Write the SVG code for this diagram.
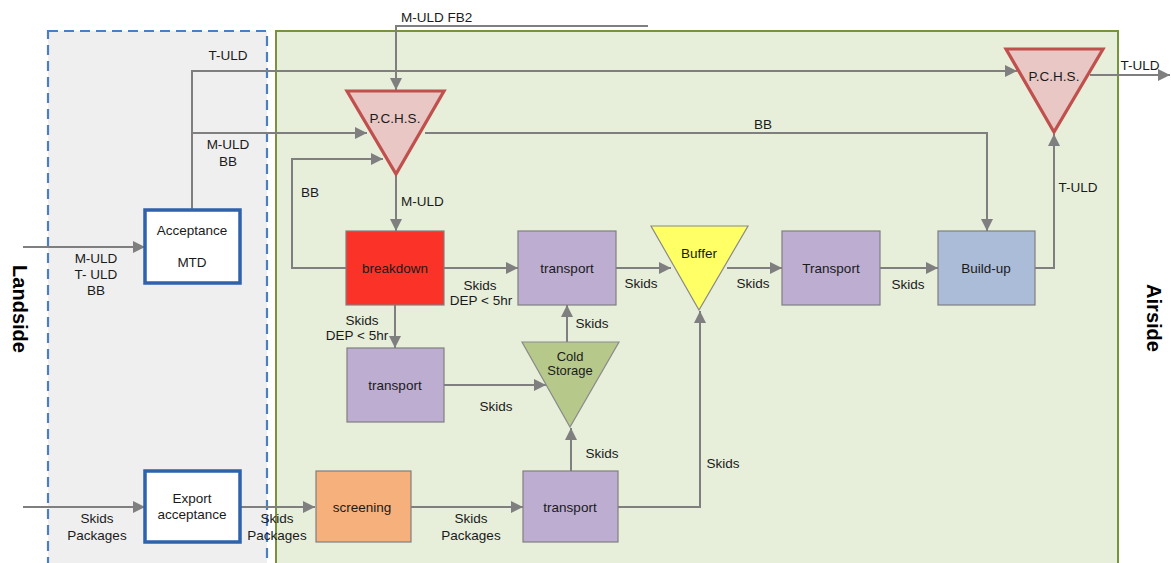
<svg xmlns="http://www.w3.org/2000/svg" width="1171" height="563" viewBox="0 0 1171 563">
<style>
text{font-family:"Liberation Sans",Arial,sans-serif;font-size:13.5px;fill:#1a1a1a}
.c{text-anchor:middle}
.side{font-size:20px;font-weight:bold;fill:#000}
.ln{fill:none;stroke:#7f7f7f;stroke-width:2}
.box{stroke:#7f7f7f;stroke-width:1.2}
.acc{fill:#fff;stroke:#2e62aa;stroke-width:3.5}
.pchs{fill:#e8c7c5;stroke:#c0504d;stroke-width:3.2}
.tri{stroke:#8a8a8a;stroke-width:1.2}
.purple{fill:#bcadd1}
.sm{font-size:13px}
</style>
<defs>
<marker id="ah" viewBox="0 0 10 10" refX="10" refY="5" markerWidth="12" markerHeight="12" markerUnits="userSpaceOnUse" orient="auto">
<path d="M0,0 L10,5 L0,10 z" fill="#7f7f7f"/>
</marker>
</defs>
<rect width="1171" height="563" fill="#fff"/>
<g id="landside">
<rect x="48" y="31" width="219" height="545" fill="#efefef" stroke="#4a7fc6" stroke-width="2.2" stroke-dasharray="10,6"/>
<text class="side c" transform="translate(13,309) rotate(90)">Landside</text>
</g>
<g id="airside">
<rect x="276" y="31" width="842" height="545" fill="#e7efda" stroke="#77933c" stroke-width="2"/>
<text class="side c" transform="translate(1147,318) rotate(90)">Airside</text>
</g>
<g id="connectors">
<polyline class="ln" points="648,26 396,26 396,90" marker-end="url(#ah)"/>
<text x="401" y="22">M-ULD FB2</text>
<polyline class="ln" points="192,210 192,71 1017,71" marker-end="url(#ah)"/>
<text class="c" x="228" y="60">T-ULD</text>
<polyline class="ln" points="192,133 367,133" marker-end="url(#ah)"/>
<text class="c" x="228" y="149">M-ULD</text>
<text class="c" x="228" y="166">BB</text>
<polyline class="ln" points="346,268 292,268 292,159 383,159" marker-end="url(#ah)"/>
<text class="c" x="310" y="197">BB</text>
<polyline class="ln" points="23,247 145,247" marker-end="url(#ah)"/>
<text class="c" x="96" y="263">M-ULD</text>
<text class="c" x="96" y="279">T- ULD</text>
<text class="c" x="96" y="295">BB</text>
<polyline class="ln" points="425,133 987,133 987,231" marker-end="url(#ah)"/>
<text class="c" x="763" y="129">BB</text>
<polyline class="ln" points="396,175 396,231" marker-end="url(#ah)"/>
<text x="401" y="206">M-ULD</text>
<polyline class="ln" points="444,268 518,268" marker-end="url(#ah)"/>
<text class="c" x="480" y="290">Skids</text>
<text class="c" x="481" y="305">DEP &lt; 5hr</text>
<polyline class="ln" points="616,268 671,268" marker-end="url(#ah)"/>
<text class="c" x="641" y="288">Skids</text>
<polyline class="ln" points="727,268 782,268" marker-end="url(#ah)"/>
<text class="c" x="753" y="288">Skids</text>
<polyline class="ln" points="880,268 938,268" marker-end="url(#ah)"/>
<text class="c" x="908" y="289">Skids</text>
<polyline class="ln" points="1035,268 1054,268 1054,134" marker-end="url(#ah)"/>
<text class="c" x="1078" y="192">T-ULD</text>
<polyline class="ln" points="1090,75 1170,75" marker-end="url(#ah)"/>
<text class="c" x="1140" y="70">T-ULD</text>
<polyline class="ln" points="395,305 395,348" marker-end="url(#ah)"/>
<text class="c" x="362" y="325">Skids</text>
<text class="c" x="357" y="340">DEP &lt; 5hr</text>
<polyline class="ln" points="444,385 546,385" marker-end="url(#ah)"/>
<text class="c" x="496" y="411">Skids</text>
<polyline class="ln" points="567,342 567,305" marker-end="url(#ah)"/>
<text class="c" x="592" y="328">Skids</text>
<polyline class="ln" points="571,471 571,428" marker-end="url(#ah)"/>
<text class="c" x="602" y="458">Skids</text>
<polyline class="ln" points="618,507 700,507 700,311" marker-end="url(#ah)"/>
<text class="c" x="723" y="468">Skids</text>
<polyline class="ln" points="411,507 523,507" marker-end="url(#ah)"/>
<text class="c" x="471" y="523">Skids</text>
<text class="c" x="471" y="540">Packages</text>
<polyline class="ln" points="240,507 315,507" marker-end="url(#ah)"/>
<text class="c" x="277" y="523">Skids</text>
<text class="c" x="277" y="540">Packages</text>
<polyline class="ln" points="23,507 145,507" marker-end="url(#ah)"/>
<text class="c" x="97" y="523">Skids</text>
<text class="c" x="97" y="540">Packages</text>
</g>
<g id="acceptance">
<rect class="acc" x="145" y="210" width="95" height="73"/>
<text class="c" x="192" y="235">Acceptance</text>
<text class="c" x="192" y="267">MTD</text>
</g>
<g id="export">
<rect class="acc" x="145" y="471" width="95" height="71"/>
<text class="c" x="192" y="503">Export</text>
<text class="c" x="192" y="519">acceptance</text>
</g>
<g id="pchs1">
<polygon class="pchs" points="347,91 444,91 396,174"/>
<text class="c" x="395" y="123">P.C.H.S.</text>
</g>
<g id="pchs2">
<polygon class="pchs" points="1006,49 1103,49 1054,132"/>
<text class="c" x="1054" y="81">P.C.H.S.</text>
</g>
<g id="breakdown">
<rect class="box" x="346" y="231" width="98" height="74" fill="#fb3228"/>
<text class="c" x="395" y="273">breakdown</text>
</g>
<g id="transport1">
<rect class="box purple" x="518" y="231" width="98" height="74"/>
<text class="c" x="567" y="273">transport</text>
</g>
<g id="buffer">
<polygon class="tri" points="651,226 748,226 699,310" fill="#ffff66"/>
<text class="c" x="699" y="258">Buffer</text>
</g>
<g id="transport2">
<rect class="box purple" x="782" y="231" width="98" height="74"/>
<text class="c" x="831" y="273">Transport</text>
</g>
<g id="buildup">
<rect class="box" x="938" y="231" width="97" height="74" fill="#abbcd9"/>
<text class="c" x="986" y="273">Build-up</text>
</g>
<g id="transport3">
<rect class="box purple" x="347" y="348" width="97" height="74"/>
<text class="c" x="395" y="390">transport</text>
</g>
<g id="coldstorage">
<polygon class="tri" points="522,342 619,342 570,427" fill="#b6c98a"/>
<text class="c sm" x="570" y="361">Cold</text>
<text class="c sm" x="570" y="375">Storage</text>
</g>
<g id="screening">
<rect class="box" x="316" y="471" width="95" height="71" fill="#f5b07b"/>
<text class="c" x="362" y="512">screening</text>
</g>
<g id="transport4">
<rect class="box purple" x="523" y="471" width="95" height="71"/>
<text class="c" x="570" y="512">transport</text>
</g>
</svg>
